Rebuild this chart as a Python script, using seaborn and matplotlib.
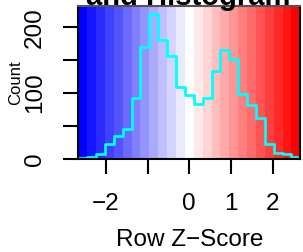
import numpy as np
import pandas as pd
import matplotlib
matplotlib.use("Agg")
import matplotlib.pyplot as plt
from matplotlib.colors import ListedColormap
import seaborn as sns

# ============================================
# DATA: colour key range and histogram counts
# ============================================

key_min = -2.665
key_max = 2.665
n_bins = 25
counts = [1, 3, 7, 23, 34, 46, 92, 170, 221, 181, 157, 109, 97,
          84, 93, 133, 166, 152, 99, 82, 62, 23, 8, 7, 3]
x_ticks = [-2, -1, 0, 1, 2]
x_tick_labels = ["\u22122", "", "0", "1", "2"]
y_ticks = [0, 50, 100, 150, 200]
y_tick_labels = ["0", "", "100", "", "200"]

breaks = np.linspace(key_min, key_max, n_bins + 1)
centers = (breaks[:-1] + breaks[1:]) / 2
ymax = max(counts) / 0.95
df = pd.DataFrame({"z": centers, "n": counts})

# ============================================
# PLOT
# ============================================

sns.set_style("white")
plt.rcParams["font.family"] = ["Liberation Sans", "DejaVu Sans"]
plt.rcParams["text.color"] = "black"
plt.rcParams["axes.labelcolor"] = "black"
plt.rcParams["xtick.color"] = "black"
plt.rcParams["ytick.color"] = "black"

fig = plt.figure(figsize=(3.03, 2.52), dpi=100)
ax = fig.add_axes([78.3 / 303, 1 - 158.7 / 252, 222 / 303, 152.7 / 252])

band_cmap = ListedColormap(plt.get_cmap("bwr")(np.linspace(0, 1, n_bins)))
ax.pcolormesh(breaks, [0, ymax], centers[None, :], cmap=band_cmap, zorder=0)

sns.histplot(data=df, x="z", weights="n", bins=list(breaks), element="step",
             fill=False, color="cyan", linewidth=2.0, ax=ax, zorder=2)

ax.set_xlim(key_min, key_max)
ax.set_ylim(0, ymax)

ax.set_xticks(x_ticks)
ax.set_xticklabels(x_tick_labels, fontsize=17.5)
ax.set_yticks(y_ticks)
ax.set_yticklabels(y_tick_labels, fontsize=17.5, rotation=90, va="center")
ax.tick_params(axis="both", direction="out", length=10.5, width=1.5,
               color="black", bottom=True, left=True)
ax.tick_params(axis="x", pad=14)
ax.tick_params(axis="y", pad=13)

for side in ["left", "bottom", "top", "right"]:
    ax.spines[side].set_color("black")
    ax.spines[side].set_linewidth(1.5)
ax.spines["top"].set_color("#555555")

ax.set_xlabel("Row Z\u2212Score", fontsize=17.5)
ax.xaxis.set_label_coords(0.5, -0.462)
ax.set_ylabel("Count", fontsize=12)
ax.yaxis.set_label_coords(-0.25, 0.5)

fig.text(0.622, 1 - 5 / 252, "and Histogram", ha="center", va="baseline",
         fontsize=21, fontweight="bold")

plt.savefig("out.png", dpi=100)
